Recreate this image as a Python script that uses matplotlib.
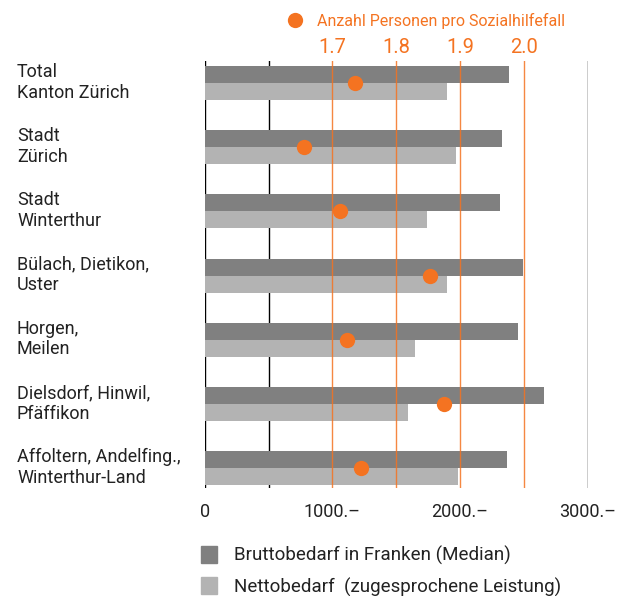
import matplotlib
matplotlib.use("Agg")
import matplotlib.pyplot as plt
import matplotlib.transforms as mtransforms
from matplotlib.patches import Patch
from matplotlib.lines import Line2D

plt.rcParams['font.family'] = ['Roboto', 'DejaVu Sans']

regions = [
    "Total\nKanton Zürich",
    "Stadt\nZürich",
    "Stadt\nWinterthur",
    "Bülach, Dietikon,\nUster",
    "Horgen,\nMeilen",
    "Dielsdorf, Hinwil,\nPfäffikon",
    "Affoltern, Andelfing.,\nWinterthur-Land",
]
brutto = [2385, 2330, 2315, 2495, 2455, 2660, 2370]
netto = [1900, 1970, 1745, 1900, 1650, 1595, 1985]
personen = [1.735, 1.655, 1.712, 1.853, 1.723, 1.875, 1.745]

bottom_ticks = [0, 1000, 2000, 3000]
bottom_labels = ["0", "1000.–", "2000.–", "3000.–"]
top_ticks = [1.7, 1.8, 1.9, 2.0]

dark = "#808080"
light = "#b3b3b3"
orange = "#f47321"
text_col = "#222222"

fig = plt.figure(figsize=(6.31, 5.96), dpi=100)
ax = fig.add_axes([0.3244, 0.1812, 0.6067, 0.7165])

# top scale: 1.7 at 1000, 0.1 per 500
to_top = lambda b: 1.5 + b / 5000
to_bottom = lambda p: (p - 1.5) * 5000

h = 0.265
ypos = list(range(len(regions)))
for y, b, n in zip(ypos, brutto, netto):
    ax.barh(y - h / 2, b, height=h, color=dark, zorder=2)
    ax.barh(y + h / 2, n, height=h, color=light, zorder=2)

for x in [0, 500, 3000]:
    ax.axvline(x, color="black", lw=1.0, zorder=1)
for p in top_ticks:
    ax.axvline(to_bottom(p), color=orange, lw=1.0, zorder=3, alpha=0.85)

ax.plot([to_bottom(p) for p in personen], ypos, "o", color=orange, ms=11,
        mec="none", zorder=4, clip_on=False)

ax.set_xlim(0, 3000)
ax.set_ylim(6.31, -0.343)
for s in ax.spines.values():
    s.set_visible(False)
ax.set_yticks([])
ax.set_xticks(bottom_ticks)
ax.set_xticklabels(bottom_labels, fontsize=13, color=text_col)
ax.tick_params(axis="x", length=0, pad=11)

sec = ax.secondary_xaxis("top", functions=(to_top, to_bottom))
sec.set_xticks(top_ticks)
sec.set_xticklabels([f"{t:.1f}" for t in top_ticks], fontsize=14.5, color=orange)
sec.tick_params(length=0, pad=3)
for s in sec.spines.values():
    s.set_visible(False)

label_tr = mtransforms.blended_transform_factory(fig.transFigure, ax.transData)
for y, name in zip(ypos, regions):
    ax.text(17 / 631, y - 0.01, name, transform=label_tr, fontsize=13,
            color=text_col, va="center", ha="left", linespacing=1.2)

# top legend
fig.legend(handles=[Line2D([], [], marker="o", ls="none", color=orange,
                           ms=11, mec="none")],
           labels=["Anzahl Personen pro Sozialhilfefall"],
           loc="center left", bbox_to_anchor=(271 / 631, 1 - 21 / 596),
           frameon=False, handletextpad=0.4, fontsize=11.5,
           labelcolor=orange, borderpad=0)

# bottom legend
fig.legend(handles=[Patch(color=dark), Patch(color=light)],
           labels=["Bruttobedarf in Franken (Median)",
                   "Nettobedarf  (zugesprochene Leistung)"],
           loc="upper left", bbox_to_anchor=(201 / 631, 1 - 546 / 596),
           frameon=False, fontsize=13.5, labelcolor=text_col,
           handlelength=0.85, handleheight=1.0, handletextpad=0.9,
           labelspacing=0.65, borderpad=0, borderaxespad=0)

fig.savefig("out.png", dpi=100)
